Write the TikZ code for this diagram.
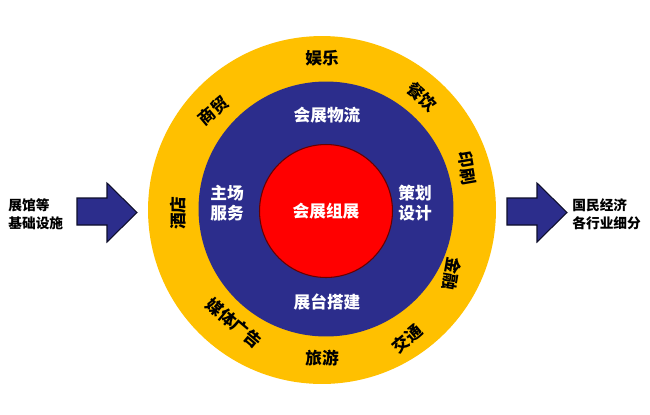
\documentclass[tikz,border=0pt]{standalone}
\usepackage{fontspec}
\newfontfamily\cjk{Noto Sans CJK SC}
\usetikzlibrary{positioning}
\definecolor{ringyellow}{RGB}{255,192,0}
\definecolor{navy}{RGB}{44,45,140}
\definecolor{corered}{RGB}{255,0,0}
\tikzset{x=0.02cm,y=-0.02cm,
  ring/.style={circle,inner sep=0pt},
  outer/.style={font=\cjk\bfseries\fontsize{9.5}{11}\selectfont,text=black,inner sep=0pt},
  inner/.style={font=\cjk\bfseries\fontsize{9.5}{11.5}\selectfont,text=white,align=center,inner sep=0pt},
  side/.style={font=\cjk\bfseries\fontsize{7.8}{10.3}\selectfont,align=left,inner sep=0pt},
  bigarrow/.style={fill=navy,draw=black!70!navy,line width=0.6pt,line join=miter}}

\begin{document}
\begin{tikzpicture}
        \useasboundingbox (0,0) rectangle (650,414);

        % rings
        \node [ring,fill=ringyellow,minimum size=6.96cm] (yellow) at (322,210) {};
        \node [ring,fill=navy,minimum size=5.1cm] (blue) at (326,209) {};
        \node [ring,fill=corered,draw=black!60!red,line width=0.6pt,minimum size=2.66cm] (core) at (326,211) {};

        \node [inner] (zuzhan) at (core) {会展组展};
        \node [inner] (wuliu)  at (327,115) {会展物流};
        \node [inner] (dajian) at (327,302) {展台搭建};
        \node [inner] (zhuchang) at (227,203) {主场\\服务};
        \node [inner] (cehua)    at (415,203) {策划\\设计};

        % outer ring
        \node [outer] (yule)   at (322,58)  {娱乐};
        \node [outer,rotate=-42] (canyin) at (422,97)  {餐饮};
        \node [outer,rotate=-80] (yinshua) at (467,168) {印刷};
        \node [outer,rotate=-100] (jinrong) at (452,274) {金融};
        \node [outer,rotate=40] (jiaotong) at (407,339) {交通};
        \node [outer] (lvyou)  at (322,358) {旅游};
        \node [outer,rotate=-40] (meiti) at (234,323) {媒体广告};
        \node [outer,rotate=90] (jiudian) at (178,213) {酒店};
        \node [outer,rotate=40] (shangmao) at (213,111) {商贸};

        % arrows
        \draw [bigarrow] (77,198) -- (107,198) -- (107,183) -- (137,212.5)
              -- (107,242) -- (107,225) -- (77,225) -- cycle;
        \draw [bigarrow] (507,198) -- (537,198) -- (537,183) -- (567,212.5)
              -- (537,242) -- (537,225) -- (507,225) -- cycle;

        \node [side,anchor=west] (jichu) at (8,214) {展馆等\\基础设施};
        \node [side,anchor=west] (hangye) at (572,214) {国民经济\\各行业细分};
      \end{tikzpicture}
\end{document}
